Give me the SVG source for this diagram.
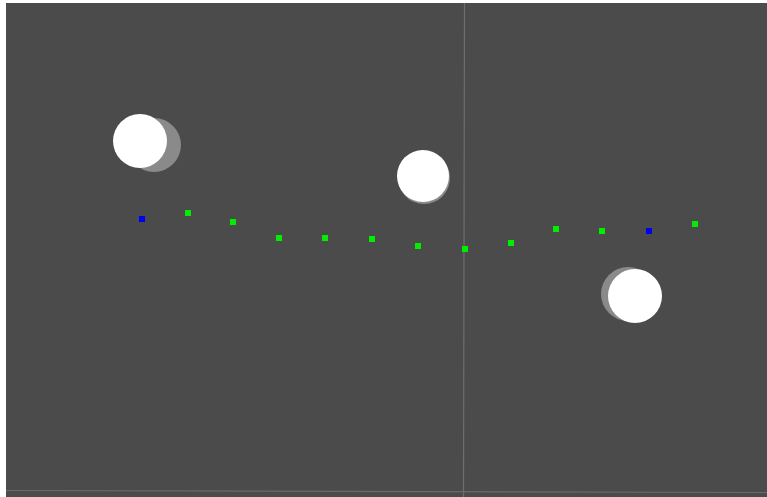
<svg xmlns="http://www.w3.org/2000/svg" width="767" height="497" viewBox="0 0 767 497">
<style>
.ball{fill:#ffffff}
.shadow{fill:#8a8a8a}
.g{fill:#00ee00}
.b{fill:#0000ee}
</style>
<rect x="0" y="0" width="767" height="497" fill="#ffffff"/>
<rect x="6" y="3" width="761" height="494" fill="#4b4b4b"/>
<line x1="464.5" y1="3" x2="463.5" y2="497" stroke="#6e6e6e" stroke-width="1.2"/>
<line x1="6" y1="490.5" x2="767" y2="492.5" stroke="#6a6a6a" stroke-width="1.2"/>
<g id="obstacle1">
<circle class="shadow" cx="154" cy="145" r="27"/>
<circle class="ball" cx="140" cy="141" r="27"/>
</g>
<g id="obstacle2">
<circle class="shadow" cx="424" cy="178" r="26"/>
<circle class="ball" cx="423" cy="176" r="26"/>
</g>
<g id="obstacle3">
<circle class="shadow" cx="628" cy="294" r="27"/>
<circle class="ball" cx="635" cy="296" r="27"/>
</g>
<g id="path">
<rect class="b" x="139" y="216" width="6" height="6"/>
<rect class="g" x="185" y="210" width="6" height="6"/>
<rect class="g" x="230" y="219" width="6" height="6"/>
<rect class="g" x="276" y="235" width="6" height="6"/>
<rect class="g" x="322" y="235" width="6" height="6"/>
<rect class="g" x="369" y="236" width="6" height="6"/>
<rect class="g" x="415" y="243" width="6" height="6"/>
<rect class="g" x="462" y="246" width="6" height="6"/>
<rect class="g" x="508" y="240" width="6" height="6"/>
<rect class="g" x="553" y="226" width="6" height="6"/>
<rect class="g" x="599" y="228" width="6" height="6"/>
<rect class="b" x="646" y="228" width="6" height="6"/>
<rect class="g" x="692" y="221" width="6" height="6"/>
</g>
</svg>
